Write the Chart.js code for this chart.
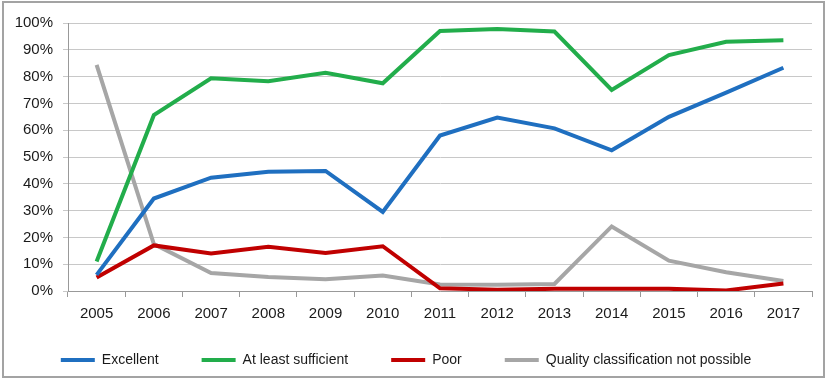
<!DOCTYPE html>
<html>
<head>
<meta charset="utf-8">
<script src="https://cdn.jsdelivr.net/npm/chart.js@4"></script>
<style>
  html, body { margin: 0; padding: 0; background: #fff; }
  #wrap { width: 828px; height: 381px; }
</style>
</head>
<body>
<div id="wrap"><canvas id="qualityChart" width="828" height="381"></canvas></div>
<script>
const years = ["2005", "2006", "2007", "2008", "2009", "2010", "2011", "2012", "2013", "2014", "2015", "2016", "2017"];
const excellent = [6, 34.5, 42.3, 44.5, 44.8, 29.5, 58, 64.7, 60.7, 52.5, 65, 74, 83.3];
const sufficient = [11, 65.6, 79.4, 78.3, 81.4, 77.5, 97, 97.8, 96.8, 75, 88, 93, 93.6];
const poor = [5, 17, 14, 16.5, 14.2, 16.7, 1, 0.5, 0.8, 0.8, 0.8, 0.2, 2.8];
const notPossible = [84.4, 17.5, 6.7, 5.2, 4.4, 5.8, 2.4, 2.3, 2.6, 24.1, 11.3, 7, 3.7];
const yTicks = [0, 10, 20, 30, 40, 50, 60, 70, 80, 90, 100];

const ctx = document.getElementById('qualityChart').getContext('2d');

function series(label, data, color) {
  return {
    label: label,
    data: data,
    borderColor: color,
    backgroundColor: color,
    borderWidth: 4,
    pointRadius: 0,
    tension: 0
  };
}

// grey frame around the whole picture
const frame = {
  id: 'frame',
  afterLayout(chart) {
    // the x axis box is kept short so the legend sits close; let its labels draw below it
    chart.scales.x.bottom += 24;
  },
  afterDraw(chart) {
    const c = chart.ctx;
    c.save();
    c.strokeStyle = '#a3a3a3';
    c.lineWidth = 2;
    c.strokeRect(3, 2, 821, 375);
    c.restore();
  }
};

const config = {
  type: 'line',
  data: {
    labels: years,
    datasets: [
      series("Excellent", excellent, "#1f6fc0"),
      series("At least sufficient", sufficient, "#22ad4b"),
      series("Poor", poor, "#c00000"),
      series("Quality classification not possible", notPossible, "#a6a6a6")
    ]
  },
  options: {
    responsive: false,
    animation: false,
    layout: { padding: { left: 0, right: 16, top: 23, bottom: 4 } },
    plugins: {
      tooltip: { enabled: false },
      legend: {
        position: 'bottom',
        labels: {
          usePointStyle: true,
          pointStyle: 'line',
          pointStyleWidth: 34,
          boxHeight: 14,
          padding: 43,
          color: '#1a1a1a',
          font: { family: 'Liberation Sans', size: 14 }
        }
      }
    },
    scales: {
      x: {
        offset: true,
        grid: { offset: true, drawOnChartArea: false, tickLength: 6, color: '#999' },
        border: { color: '#999', width: 1 },
        ticks: { color: '#1a1a1a', padding: 8, maxRotation: 0, font: { family: 'Liberation Sans', size: 15 } },
        afterFit(scale) { scale.height = 19; }
      },
      y: {
        min: 0,
        max: 100,
        afterBuildTicks(scale) { scale.ticks = yTicks.map(v => ({ value: v })); },
        grid: { color: '#c8c8c8', tickLength: 5, lineWidth: 1 },
        border: { color: '#999', width: 1 },
        ticks: {
          color: '#1a1a1a',
          padding: 10,
          font: { family: 'Liberation Sans', size: 15 },
          callback: v => v + '%'
        },
        afterFit(scale) { scale.width = 68; }
      }
    }
  },
  plugins: [frame]
};

new Chart(ctx, config);
</script>
</body>
</html>
